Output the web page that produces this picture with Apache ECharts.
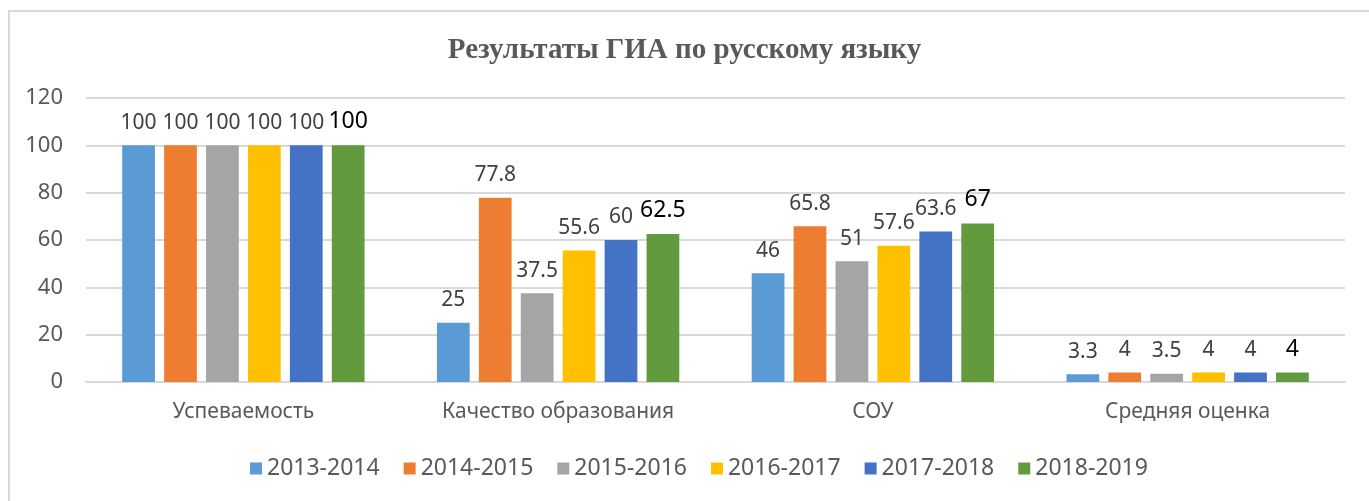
<!DOCTYPE html>
<html>
<head>
<meta charset="utf-8">
<script src="https://cdn.jsdelivr.net/npm/echarts@6/dist/echarts.min.js"></script>
<style>
  html, body { margin: 0; padding: 0; background: #fff; }
  #chart { width: 1369px; height: 501px; }
</style>
</head>
<body>
<div id="chart"></div>
<script>
// категории и ряды
const categories = ['Успеваемость', 'Качество образования', 'СОУ', 'Средняя оценка'];
const years = ['2013-2014', '2014-2015', '2015-2016', '2016-2017', '2017-2018', '2018-2019'];
const v2013 = [100, 25, 46, 3.3];
const v2014 = [100, 77.8, 65.8, 4];
const v2015 = [100, 37.5, 51, 3.5];
const v2016 = [100, 55.6, 57.6, 4];
const v2017 = [100, 60, 63.6, 4];
const v2018 = [100, 62.5, 67, 4];
const yTicks = [0, 20, 40, 60, 80, 100, 120];

const allValues = [v2013, v2014, v2015, v2016, v2017, v2018];
const colors = ['#5b9bd5', '#ed7d31', '#a5a5a5', '#ffc000', '#4472c4', '#629a3e'];
const font = 'Noto Sans';

const chart = echarts.init(document.getElementById('chart'));

const series = years.map((name, i) => {
  const last = i === years.length - 1;
  return {
    name: name,
    type: 'bar',
    data: allValues[i],
    barGap: '28%',
    barCategoryGap: '23%',
    itemStyle: { color: colors[i] },
    label: {
      show: true,
      position: 'top',
      distance: 12,
      fontFamily: font,
      fontSize: last ? 23 : 21,
      color: last ? '#000' : '#404040'
    }
  };
});

chart.setOption({
  animation: false,
  backgroundColor: '#fff',
  graphic: [{
    type: 'rect',
    shape: { x: 9, y: 11, width: 1400, height: 600 },
    style: { fill: 'none', stroke: '#d9d9d9', lineWidth: 2 },
    silent: true
  }],
  title: {
    text: 'Результаты ГИА по русскому языку',
    left: 'center',
    top: 31,
    textStyle: {
      fontFamily: 'Liberation Serif',
      fontWeight: 'bold',
      fontSize: 29,
      color: '#595959'
    }
  },
  legend: {
    data: years,
    left: 245,
    top: 452,
    icon: 'rect',
    itemWidth: 12,
    itemHeight: 12,
    itemGap: 24,
    textStyle: { fontFamily: font, fontSize: 23, color: '#595959' }
  },
  grid: { left: 86, right: 24, top: 98, bottom: 119, containLabel: false },
  xAxis: {
    type: 'category',
    data: categories,
    axisLine: { lineStyle: { color: '#d9d9d9', width: 2 } },
    axisTick: { show: false },
    axisLabel: { margin: 20, fontFamily: font, fontSize: 21, color: '#595959' }
  },
  yAxis: {
    type: 'value',
    min: yTicks[0],
    max: yTicks[yTicks.length - 1],
    interval: 20,
    axisLine: { show: false },
    axisTick: { show: false },
    splitLine: { lineStyle: { color: '#d9d9d9', width: 2 } },
    axisLabel: { margin: 23, fontFamily: font, fontSize: 22, color: '#595959' }
  },
  series: series
});
</script>
</body>
</html>
